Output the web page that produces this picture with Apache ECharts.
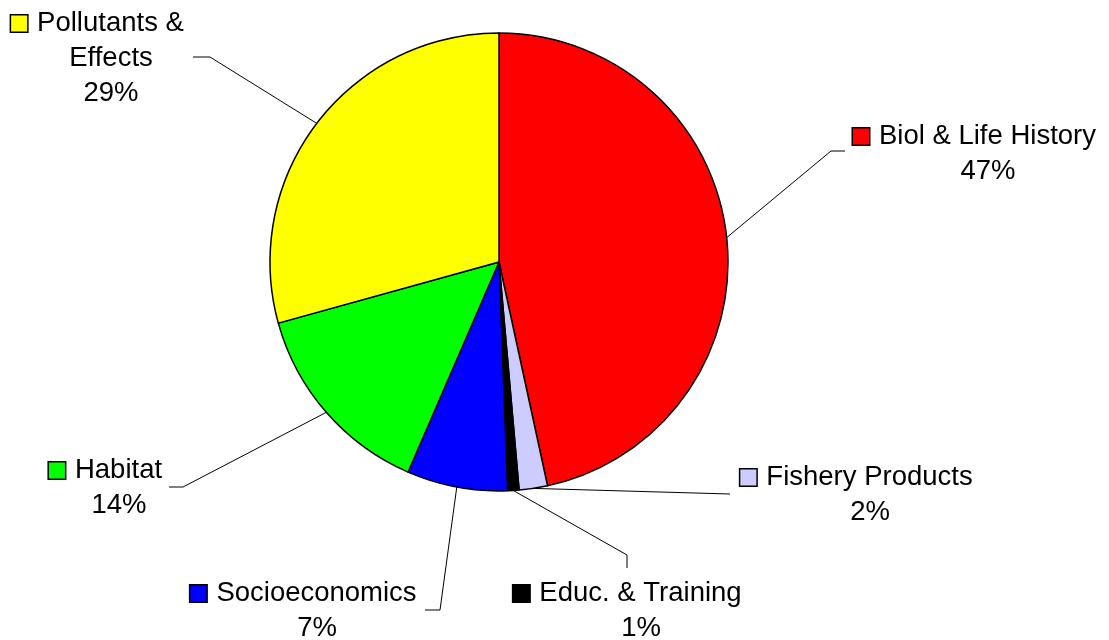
<!DOCTYPE html>
<html>
<head>
<meta charset="utf-8">
<script src="https://cdn.jsdelivr.net/npm/echarts@6/dist/echarts.min.js"></script>
<style>
  html, body { margin: 0; padding: 0; background: #fff; }
  #chart { width: 1109px; height: 640px; }
</style>
</head>
<body>
<div id="chart"></div>
<script>
// data (percent of total)
var categories = ['Biol & Life History', 'Fishery Products', 'Educ. & Training', 'Socioeconomics', 'Habitat', 'Pollutants &\nEffects'];
var values = [46.6, 2.0, 0.8, 7.1, 14.2, 29.3];
var colors = ['#ff0000', '#ccccff', '#000000', '#0000ff', '#00ff00', '#ffff00'];

// label placement: anchor = centre of text / top of first line, then line elbow + end
var labelAnchor = [[988, 119], [870, 460], [641, 576], [317, 576], [119, 453], [111, 6]];
var lineElbow = [[831, 151], null, [627, 555], [440, 610], [183, 487], [210, 57]];
var lineEnd = [[845, 151], [730, 494], [627, 568], [425, 610], [169, 487], [193, 57]];

var myChart = echarts.init(document.getElementById('chart'));

var rich = {
  t: { fontSize: 27.5, lineHeight: 35, color: '#000', fontFamily: 'Liberation Sans, Arial, sans-serif' },
  g: { width: 10, height: 16 },
  sp: { width: 27, height: 16 }
};
colors.forEach(function (c, i) {
  rich['sq' + i] = { width: 16, height: 16, backgroundColor: c, borderColor: '#000', borderWidth: 1.5 };
});

var seriesData = categories.map(function (name, i) {
  return { name: name, value: values[i], itemStyle: { color: colors[i] } };
});

var option = {
  animation: false,
  series: [
    {
      type: 'pie',
      center: [499, 262],
      radius: 229,
      startAngle: 90,
      clockwise: true,
      data: seriesData,
      itemStyle: { borderColor: '#000', borderWidth: 1.5 },
      emphasis: { disabled: true },
      label: {
        show: true,
        position: 'outside',
        align: 'center',
        rich: rich,
        formatter: function (p) {
          var parts = p.name.split('\n');
          var s = '{sq' + p.dataIndex + '|}{g|}{t|' + parts[0] + '}{sp|}';
          for (var k = 1; k < parts.length; k++) {
            s += '\n{t|' + parts[k] + '}';
          }
          s += '\n{t|' + Math.round(p.percent) + '%}';
          return s;
        }
      },
      labelLine: {
        show: true,
        length: 20,
        length2: 10,
        lineStyle: { color: '#000', width: 1 }
      },
      labelLayout: function (params) {
        var i = params.dataIndex;
        var pts = [params.labelLinePoints ? params.labelLinePoints[0] : lineEnd[i]];
        if (lineElbow[i]) pts.push(lineElbow[i]);
        pts.push(lineEnd[i]);
        return {
          x: labelAnchor[i][0],
          y: labelAnchor[i][1],
          align: 'center',
          verticalAlign: 'top',
          labelLinePoints: pts
        };
      }
    }
  ]
};

myChart.setOption(option);
window.onresize = function () {
  myChart.resize();
};
</script>
</body>
</html>
